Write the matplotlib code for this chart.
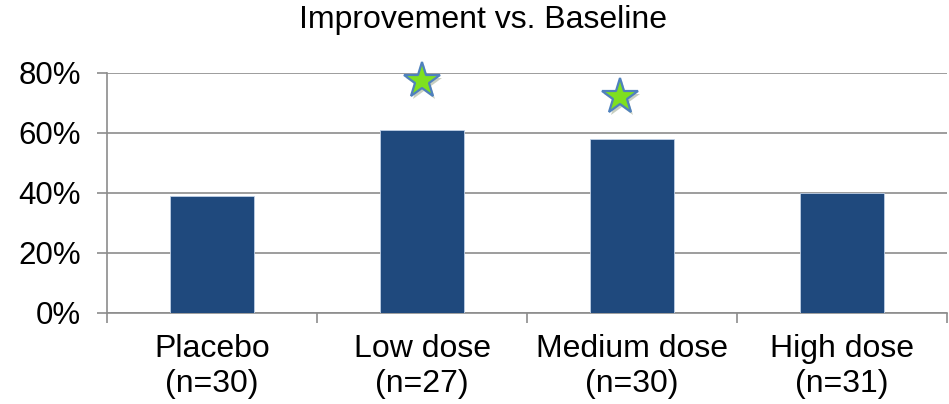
import matplotlib
matplotlib.use("Agg")
import matplotlib.pyplot as plt
import matplotlib.patheffects as pe
import numpy as np

categories = ["Placebo\n(n=30)", "Low dose\n(n=27)", "Medium dose\n(n=30)", "High dose\n(n=31)"]
values = [0.39, 0.61, 0.58, 0.40]
star_positions = [1.0, 1.943]
star_values = [0.773, 0.72]
yticks = [0.0, 0.2, 0.4, 0.6, 0.8]
ytick_labels = ["0%", "20%", "40%", "60%", "80%"]

plt.rcParams['font.family'] = ['Liberation Sans', 'DejaVu Sans']

fig = plt.figure(figsize=(9.49, 4.04), dpi=100)
ax = fig.add_axes([0.1128, 0.226, 0.998 - 0.1128, 0.820 - 0.226])

x = np.arange(len(categories))
ax.bar(x, values, width=0.4, color="#1F497D", edgecolor="#BFD0E6", linewidth=0.6, zorder=3)

ax.plot(star_positions, star_values, linestyle="none", marker="*", markersize=27,
        markerfacecolor="#7FE01F", markeredgecolor="#4F81BD", markeredgewidth=1.6, zorder=4,
        clip_on=False,
        path_effects=[pe.SimplePatchShadow(offset=(1.5, -2), alpha=0.25), pe.Normal()])

ax.set_xlim(-0.5, len(categories) - 0.5)
ax.set_ylim(0, 0.8)
ax.set_yticks(yticks)
ax.set_yticklabels(ytick_labels, fontsize=22.5)
ax.set_xticks(x)
ax.set_xticklabels(categories, fontsize=23, linespacing=1.25)
ax.set_xticks(np.arange(-0.5, len(categories), 1.0), minor=True)
ax.tick_params(axis="x", which="major", length=0, pad=15)
ax.tick_params(axis="x", which="minor", length=7, color="#8C8C8C", width=1.2)
ax.tick_params(axis="y", length=7, color="#8C8C8C", width=1.2, pad=12)

ax.grid(axis="y", color="#8C8C8C", linewidth=1.2, zorder=0)
ax.set_axisbelow(True)
for s in ["top", "right"]:
    ax.spines[s].set_visible(False)
for s in ["left", "bottom"]:
    ax.spines[s].set_color("#8C8C8C")
    ax.spines[s].set_linewidth(1.2)

fig.text(0.509, 0.95, "Improvement vs. Baseline", fontsize=23, ha="center", va="center")

fig.savefig("out.png", dpi=100)
